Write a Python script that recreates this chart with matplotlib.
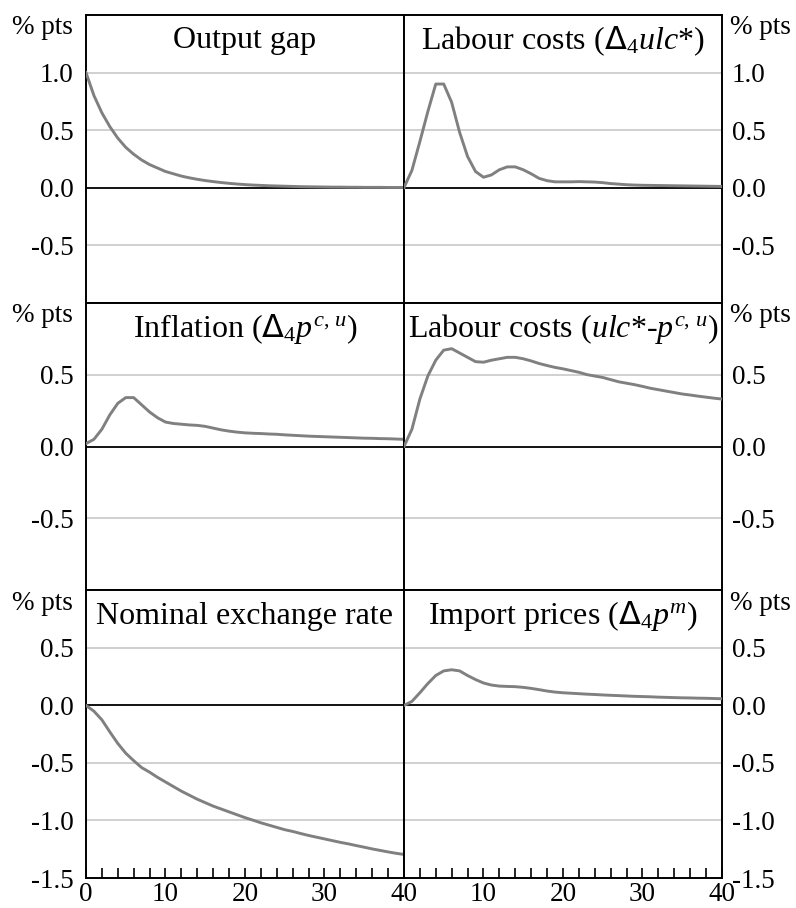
"""
6-panel impulse responses (% pts), quarters 0..40
"""
import matplotlib
matplotlib.use("Agg")
import matplotlib.pyplot as plt
from matplotlib.ticker import MultipleLocator, FixedLocator, FixedFormatter

plt.rcParams['font.family'] = ['Liberation Serif', 'DejaVu Serif']
plt.rcParams['mathtext.fontset'] = 'custom'
plt.rcParams['mathtext.rm'] = 'Liberation Serif'
plt.rcParams['mathtext.it'] = 'Liberation Serif:italic'
plt.rcParams['mathtext.sf'] = 'DejaVu Sans'
plt.rcParams['axes.unicode_minus'] = False

quarters = list(range(41))

output_gap = [1.00, 0.80, 0.65, 0.53, 0.43, 0.35, 0.29, 0.24, 0.20, 0.17,
              0.14, 0.12, 0.10, 0.085, 0.072, 0.061, 0.052, 0.044, 0.037, 0.031,
              0.026, 0.022, 0.019, 0.016, 0.014, 0.012, 0.010, 0.008, 0.007, 0.006,
              0.005, 0.004, 0.004, 0.003, 0.003, 0.002, 0.002, 0.002, 0.001, 0.001, 0.001]

ulc_growth = [0.00, 0.15, 0.40, 0.66, 0.90, 0.90, 0.74, 0.48, 0.27, 0.14,
              0.09, 0.11, 0.155, 0.18, 0.18, 0.155, 0.12, 0.08, 0.06, 0.05,
              0.05, 0.05, 0.052, 0.05, 0.048, 0.043, 0.035, 0.03, 0.025, 0.022,
              0.02, 0.019, 0.018, 0.017, 0.016, 0.015, 0.014, 0.013, 0.012, 0.011, 0.01]

inflation = [0.02, 0.05, 0.12, 0.22, 0.30, 0.34, 0.34, 0.29, 0.24, 0.20,
             0.17, 0.16, 0.155, 0.15, 0.147, 0.14, 0.128, 0.116, 0.107, 0.10,
             0.095, 0.092, 0.09, 0.087, 0.085, 0.081, 0.078, 0.075, 0.072, 0.07,
             0.068, 0.066, 0.064, 0.062, 0.06, 0.058, 0.057, 0.055, 0.054, 0.052, 0.05]

real_ulc = [0.00, 0.12, 0.33, 0.49, 0.60, 0.67, 0.68, 0.65, 0.62, 0.59,
            0.586, 0.60, 0.61, 0.62, 0.62, 0.61, 0.595, 0.577, 0.563, 0.55,
            0.54, 0.528, 0.516, 0.50, 0.49, 0.48, 0.465, 0.45, 0.44, 0.43,
            0.418, 0.405, 0.395, 0.385, 0.375, 0.365, 0.358, 0.35, 0.343, 0.336, 0.33]

exchange_rate = [0.00, -0.05, -0.125, -0.23, -0.33, -0.415, -0.48, -0.54, -0.58, -0.625,
                 -0.665, -0.705, -0.745, -0.78, -0.815, -0.845, -0.875, -0.90, -0.925, -0.95,
                 -0.975, -0.997, -1.02, -1.04, -1.06, -1.08, -1.095, -1.113, -1.13, -1.145,
                 -1.16, -1.175, -1.19, -1.203, -1.218, -1.232, -1.247, -1.26, -1.273, -1.285, -1.295]

import_prices = [0.00, 0.035, 0.11, 0.19, 0.26, 0.30, 0.31, 0.30, 0.26, 0.225,
                 0.195, 0.177, 0.168, 0.165, 0.163, 0.157, 0.148, 0.137, 0.125, 0.116,
                 0.11, 0.106, 0.102, 0.098, 0.095, 0.091, 0.088, 0.085, 0.082, 0.079,
                 0.077, 0.075, 0.072, 0.07, 0.068, 0.066, 0.065, 0.063, 0.062, 0.06, 0.058]

# (title, series, ylim, labelled y ticks)
PANELS = [
    ("Output gap", output_gap, (-1.0, 1.5), [1.0, 0.5, 0.0, -0.5]),
    (r"Labour costs ($\mathsf{\Delta}_4 ulc$*)", ulc_growth, (-1.0, 1.5), [1.0, 0.5, 0.0, -0.5]),
    (r"Inflation ($\mathsf{\Delta}_4 p^{c,\,u}$)", inflation, (-1.0, 1.0), [0.5, 0.0, -0.5]),
    (r"Labour costs ($ulc$*-$p^{c,\,u}$)", real_ulc, (-1.0, 1.0), [0.5, 0.0, -0.5]),
    ("Nominal exchange rate", exchange_rate, (-1.5, 1.0), [0.5, 0.0, -0.5, -1.0, -1.5]),
    (r"Import prices ($\mathsf{\Delta}_4 p^m$)", import_prices, (-1.5, 1.0), [0.5, 0.0, -0.5, -1.0, -1.5]),
]

LINE_COLOR = "#808080"
GRID_COLOR = "#c4c4c4"
TICK_FS = 19.5
TITLE_FS = 23

fig, axes = plt.subplots(3, 2, figsize=(7.96, 9.08), dpi=100)
fig.subplots_adjust(left=0.108, right=0.907, top=0.9835, bottom=0.033, wspace=0, hspace=0)

for i, (ax, (title, vals, ylim, yt)) in enumerate(zip(axes.flatten(), PANELS)):
    right = (i % 2 == 1)
    bottom_row = (i >= 4)

    for v in yt:
        if v != 0.0 and v != ylim[0]:
            ax.axhline(v, color=GRID_COLOR, lw=1.1, zorder=1)
    ax.axhline(0, color="black", lw=1.3, zorder=2)
    ax.plot(quarters, vals, color=LINE_COLOR, lw=2.1, zorder=3)

    ax.set_xlim(0, 40)
    ax.set_ylim(*ylim)
    for s in ax.spines.values():
        s.set_linewidth(1.4)

    ax.yaxis.set_major_locator(FixedLocator(yt))
    ax.yaxis.set_major_formatter(FixedFormatter([f"{v:.1f}" for v in yt]))
    if right:
        ax.yaxis.tick_right()
        ax.tick_params(axis="y", length=0, pad=7, labelsize=TICK_FS)
        ax.text(1.025, 0.955, "% pts", transform=ax.transAxes, ha="left", va="center", fontsize=TICK_FS)
    else:
        ax.tick_params(axis="y", length=0, pad=9, labelsize=TICK_FS)
        ax.text(-0.04, 0.955, "% pts", transform=ax.transAxes, ha="right", va="center", fontsize=TICK_FS)

    if bottom_row:
        ax.xaxis.set_major_locator(FixedLocator([0, 10, 20, 30, 40]))
        labels = ["0", "10", "20", "30", "40"]
        if right:
            labels[0] = ""
        ax.xaxis.set_major_formatter(FixedFormatter(labels))
        ax.xaxis.set_minor_locator(MultipleLocator(2))
        ax.tick_params(axis="x", which="both", direction="in", length=7.2, width=1.2,
                       pad=3, labelsize=TICK_FS)
    else:
        ax.set_xticks([])

    ax.text(0.5, 0.91, title, transform=ax.transAxes, ha="center", va="center", fontsize=TITLE_FS)

plt.savefig("out.png", dpi=100)
